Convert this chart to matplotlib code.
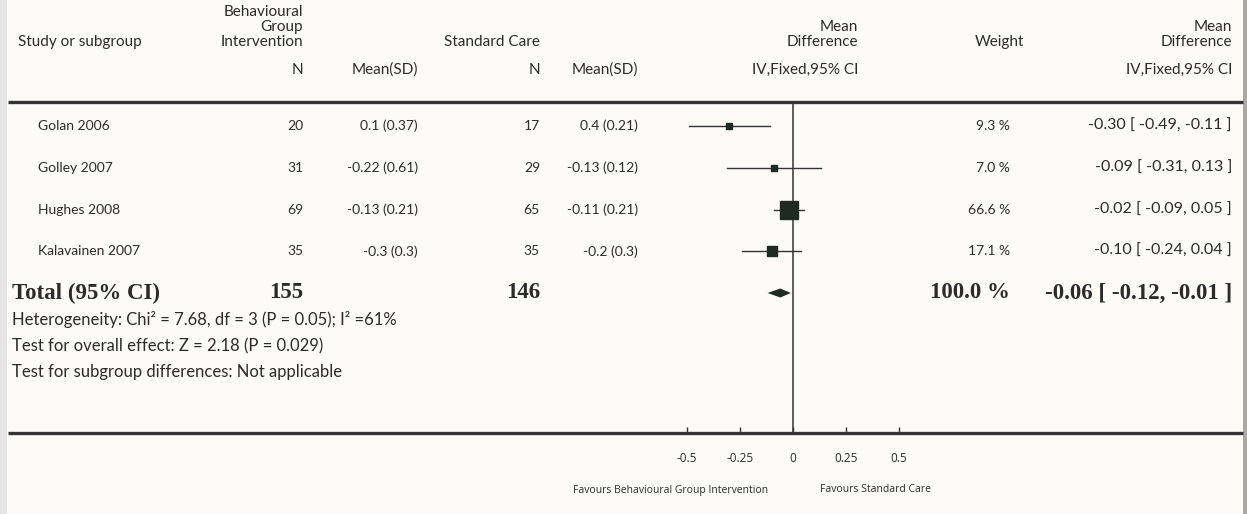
import matplotlib.pyplot as plt
from matplotlib.patches import Polygon
import numpy as np

plt.rcParams['axes.unicode_minus'] = False

# study level data
studies = ["Golan 2006", "Golley 2007", "Hughes 2008", "Kalavainen 2007"]
n_bgi = [20, 31, 69, 35]
mean_bgi = [0.1, -0.22, -0.13, -0.3]
sd_bgi = [0.37, 0.61, 0.21, 0.3]
n_sc = [17, 29, 65, 35]
mean_sc = [0.4, -0.13, -0.11, -0.2]
sd_sc = [0.21, 0.12, 0.21, 0.3]
md = [-0.30, -0.09, -0.02, -0.10]
ci_lo = [-0.49, -0.31, -0.09, -0.24]
ci_hi = [-0.11, 0.13, 0.05, 0.04]
weights = [9.3, 7.0, 66.6, 17.1]

# pooled estimate
total_md = -0.06
total_lo = -0.12
total_hi = -0.01
total_weight = 100.0

ticks = [-0.5, -0.25, 0, 0.25, 0.5]
tick_labels = ["-0.5", "-0.25", "0", "0.25", "0.5"]

footer = ["Heterogeneity: Chi² = 7.68, df = 3 (P = 0.05); I² =61%",
          "Test for overall effect: Z = 2.18 (P = 0.029)",
          "Test for subgroup differences: Not applicable"]

W, H = 1247, 514
txt = "#2b2b2b"
sans = ["Lato", "DejaVu Sans"]
serif = ["Liberation Serif", "DejaVu Serif"]
small = ["Open Sans", "DejaVu Sans"]

fig = plt.figure(figsize=(W / 100, H / 100), dpi=100, facecolor="#fdfbf8")
bg = fig.add_axes([0, 0, 1, 1])
bg.set_xlim(0, W)
bg.set_ylim(H, 0)
bg.axis("off")

# page edges
bg.axvspan(0, 7, color="#e4e4e4", lw=0)
bg.axvspan(1243, W, color="#a8a8a8", lw=0)

# rules
bg.hlines(102, 8, 1243, color="#333333", lw=2.4)
bg.hlines(432.5, 8, 1243, color="#333333", lw=2.4)

# column x (right edges) and row y
x_name, x_n1, x_m1, x_n2, x_m2 = 38, 303, 418, 540, 638
x_mdh, x_w, x_ci = 858, 1010, 1232
row0, dy = 126, 41.75
row_y = [row0 + i * dy for i in range(len(studies))]
total_y = row0 + len(studies) * dy

def put(x, y, s, ha="right", size=10, family=sans, weight="normal"):
    bg.text(x, y, s, ha=ha, va="center", fontsize=size, family=family,
            weight=weight, color=txt)

# header
hs = 11
put(18, 42, "Study or subgroup", ha="left", size=hs)
put(x_n1, 12, "Behavioural", size=hs)
put(x_n1, 27, "Group", size=hs)
put(x_n1, 42, "Intervention", size=hs)
put(x_n2, 42, "Standard Care", size=hs)
put(x_mdh, 27, "Mean", size=hs)
put(x_mdh, 42, "Difference", size=hs)
put(999, 42, "Weight", ha="center", size=hs)
put(x_ci, 27, "Mean", size=hs)
put(x_ci, 42, "Difference", size=hs)
put(x_n1, 70, "N", size=hs)
put(x_m1, 70, "Mean(SD)", size=hs)
put(x_n2, 70, "N", size=hs)
put(x_m2, 70, "Mean(SD)", size=hs)
put(x_mdh, 70, "IV,Fixed,95% CI", size=hs)
put(x_ci, 70, "IV,Fixed,95% CI", size=hs)

# study rows
for i, y in enumerate(row_y):
    put(x_name, y, studies[i], ha="left")
    put(x_n1, y, str(n_bgi[i]))
    put(x_m1, y, f"{mean_bgi[i]:g} ({sd_bgi[i]:g})")
    put(x_n2, y, str(n_sc[i]))
    put(x_m2, y, f"{mean_sc[i]:g} ({sd_sc[i]:g})")
    put(x_w, y, f"{weights[i]:.1f} %")
    put(x_ci, y, f"{md[i]:.2f} [ {ci_lo[i]:.2f}, {ci_hi[i]:.2f} ]", size=11.5)

# total row
ts = 16.5
put(12, total_y, "Total (95% CI)", ha="left", size=ts, family=serif, weight="bold")
put(x_n1, total_y, str(sum(n_bgi)), size=ts, family=serif, weight="bold")
put(x_n2, total_y, str(sum(n_sc)), size=ts, family=serif, weight="bold")
put(x_w, total_y, f"{total_weight:.1f} %", size=ts, family=serif, weight="bold")
put(x_ci, total_y, f"{total_md:.2f} [ {total_lo:.2f}, {total_hi:.2f} ]",
    size=ts, family=serif, weight="bold")

for j, s in enumerate(footer):
    put(12, 320 + j * 26, s, ha="left", size=12)

# forest plot: 0 at x=793 px, 212 px per unit
scale, zero_px = 212.0, 793.0
xl = (-0.7, 0.7)
left_px = zero_px + xl[0] * scale
ax = fig.add_axes([left_px / W, (H - 432.5) / H,
                   (xl[1] - xl[0]) * scale / W, (432.5 - 102) / H])
ax.set_xlim(*xl)
ax.set_ylim(432.5, 102)
ax.patch.set_alpha(0)
for sp in ax.spines.values():
    sp.set_visible(False)
ax.set_yticks([])

ax.axvline(0, color="#333333", lw=1.1)
sizes = 2.25 * np.sqrt(weights) / 1.39
for i, y in enumerate(row_y):
    ax.plot([ci_lo[i], ci_hi[i]], [y, y], color="#333333", lw=1.0)
    ax.plot(md[i], y, marker="s", ms=sizes[i], color="#1f2a25", mec="#1f2a25")

ax.add_patch(Polygon([[total_lo, total_y], [total_md, total_y - 4.5],
                      [total_hi, total_y], [total_md, total_y + 4.5]],
                     closed=True, color="#1f2a25", lw=0))

ax.set_xticks(ticks)
ax.set_xticklabels(tick_labels, family=small, fontsize=8.5, color=txt)
ax.tick_params(axis="x", direction="in", length=4.5, width=1.0,
               color="#333333", pad=14)

bg.text(768, 490, "Favours Behavioural Group Intervention", ha="right",
        va="center", fontsize=7.5, family=small, color=txt)
bg.text(820, 490, "Favours Standard Care", ha="left",
        va="center", fontsize=7.5, family=small, color=txt)

fig.savefig("out.png", dpi=100, facecolor=fig.get_facecolor())
